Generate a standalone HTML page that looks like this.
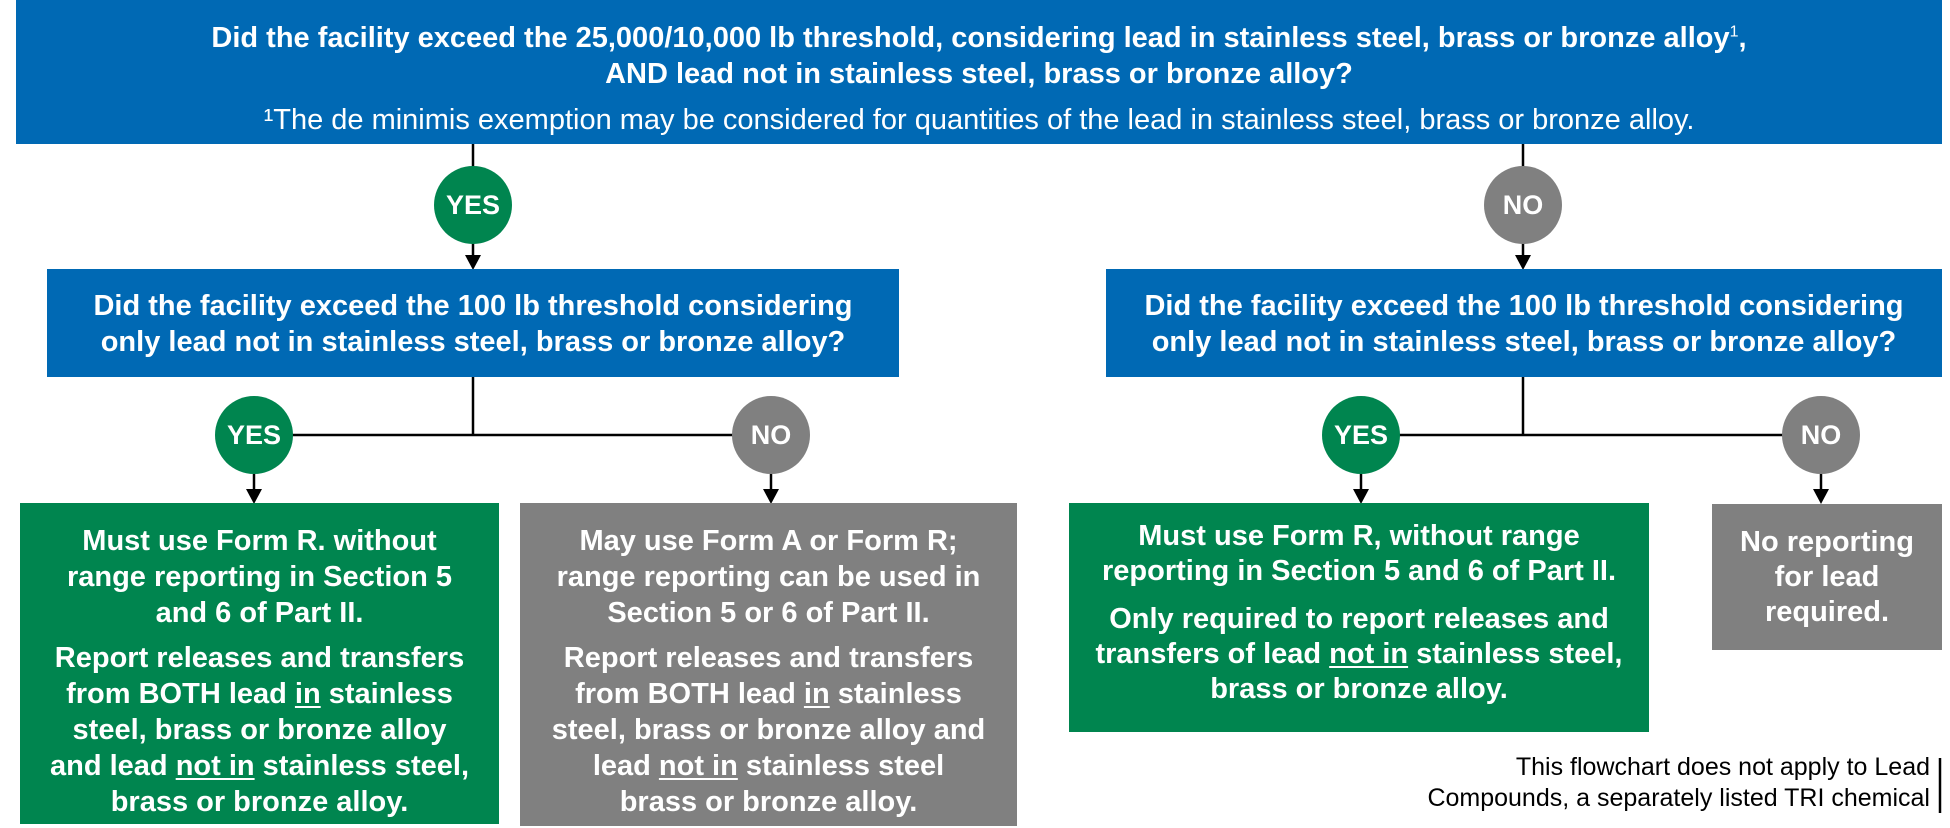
<!DOCTYPE html>
<html><head><meta charset="utf-8"><style>
body{margin:0;width:1950px;height:828px;background:#fff;position:relative;overflow:hidden;font-family:"Liberation Sans",Arial,sans-serif;}
.b{position:absolute;color:#fff;font-weight:bold;text-align:center;white-space:nowrap;box-sizing:border-box;font-size:29px;line-height:36px;}
.blue{background:#0069b4}.green{background:#00854f}.gray{background:#808080}
.c{position:absolute;width:78px;height:78px;border-radius:50%;color:#fff;font-weight:bold;font-size:27px;line-height:78px;text-align:center;}
p{margin:0}
u{text-decoration-thickness:2px;text-underline-offset:3px}
svg{position:absolute;left:0;top:0}
</style></head><body>
<svg width="1950" height="828">
<g stroke="#000" stroke-width="2.5" fill="none">
<line x1="473" y1="144" x2="473" y2="256"/>
<line x1="1523" y1="144" x2="1523" y2="256"/>
<line x1="473" y1="377" x2="473" y2="435"/>
<line x1="254" y1="435" x2="771" y2="435"/>
<line x1="254" y1="474" x2="254" y2="490"/>
<line x1="771" y1="474" x2="771" y2="490"/>
<line x1="1523" y1="377" x2="1523" y2="435"/>
<line x1="1361" y1="435" x2="1821" y2="435"/>
<line x1="1361" y1="474" x2="1361" y2="490"/>
<line x1="1821" y1="474" x2="1821" y2="490"/>
<line x1="1940" y1="758" x2="1940" y2="813"/>
</g>
<g fill="#000">
<polygon points="465,255 481,255 473,270"/>
<polygon points="1515,255 1531,255 1523,270"/>
<polygon points="246,489 262,489 254,504"/>
<polygon points="763,489 779,489 771,504"/>
<polygon points="1353,489 1369,489 1361,504"/>
<polygon points="1813,489 1829,489 1821,504"/>
</g>
</svg>

<div class="b blue" style="left:16px;top:0;width:1926px;height:144px;padding-top:20px;">
<p>Did the facility exceed the 25,000/10,000 lb threshold, considering lead in stainless steel, brass or bronze alloy<sup style="font-size:16px;line-height:0;font-weight:normal">1</sup>,<br>AND lead not in stainless steel, brass or bronze alloy?</p>
<p style="font-weight:normal;margin-top:10px;">¹The de minimis exemption may be considered for quantities of the lead in stainless steel, brass or bronze alloy.</p>
</div>

<div class="c green" style="left:434px;top:166px;">YES</div>
<div class="c gray" style="left:1484px;top:166px;">NO</div>

<div class="b blue" style="left:47px;top:269px;width:852px;height:108px;padding-top:19px;">Did the facility exceed the 100 lb threshold considering<br>only lead not in stainless steel, brass or bronze alloy?</div>
<div class="b blue" style="left:1106px;top:269px;width:836px;height:108px;padding-top:19px;">Did the facility exceed the 100 lb threshold considering<br>only lead not in stainless steel, brass or bronze alloy?</div>

<div class="c green" style="left:215px;top:396px;">YES</div>
<div class="c gray" style="left:732px;top:396px;">NO</div>
<div class="c green" style="left:1322px;top:396px;">YES</div>
<div class="c gray" style="left:1782px;top:396px;">NO</div>

<div class="b green" style="left:20px;top:503px;width:479px;height:321px;padding-top:20px;">
<p>Must use Form R. without<br>range reporting in Section 5<br>and 6 of Part II.</p>
<p style="margin-top:9px">Report releases and transfers<br>from BOTH lead <u>in</u> stainless<br>steel, brass or bronze alloy<br>and lead <u>not in</u> stainless steel,<br>brass or bronze alloy.</p>
</div>
<div class="b gray" style="left:520px;top:503px;width:497px;height:323px;padding-top:20px;">
<p>May use Form A or Form R;<br>range reporting can be used in<br>Section 5 or 6 of Part II.</p>
<p style="margin-top:9px">Report releases and transfers<br>from BOTH lead <u>in</u> stainless<br>steel, brass or bronze alloy and<br>lead <u>not in</u> stainless steel<br>brass or bronze alloy.</p>
</div>
<div class="b green" style="left:1069px;top:503px;width:580px;height:229px;padding-top:16px;line-height:35px;">
<p>Must use Form R, without range<br>reporting in Section 5 and 6 of Part II.</p>
<p style="margin-top:13px">Only required to report releases and<br>transfers of lead <u>not in</u> stainless steel,<br>brass or bronze alloy.</p>
</div>
<div class="b gray" style="left:1712px;top:504px;width:230px;height:146px;padding-top:21px;line-height:35px;">No reporting<br>for lead<br>required.</div>

<div style="position:absolute;right:20px;top:752px;text-align:right;font-size:25px;line-height:31px;color:#000;white-space:nowrap;">This flowchart does not apply to Lead<br>Compounds, a separately listed TRI chemical</div>
</body></html>
